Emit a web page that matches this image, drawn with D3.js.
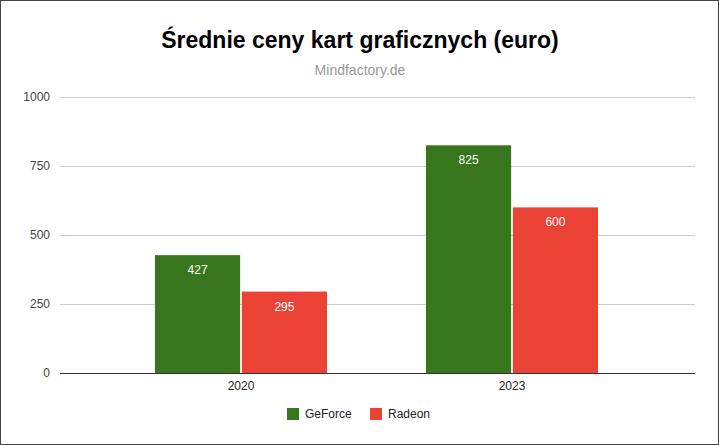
<!DOCTYPE html>
<html><head><meta charset="utf-8">
<script src="https://cdn.jsdelivr.net/npm/d3@7"></script>
<style>body{margin:0;background:#fff}svg{display:block;font-family:"Liberation Sans",Arial,sans-serif}</style>
</head><body><svg id="c" width="719" height="445"></svg>
<script>
const categories = ["2020", "2023"];
const seriesNames = ["GeForce", "Radeon"];
const geforce = [427, 825];
const radeon = [295, 600];
const yTicks = [0, 250, 500, 750, 1000];
const colors = ["#38761d", "#ea4335"];

const svg = d3.select("#c");
svg.append("rect").attr("x",0.5).attr("y",0.5).attr("width",718).attr("height",444).attr("fill","#fff").attr("stroke","#444");
svg.append("text").attr("x",360).attr("y",48).attr("text-anchor","middle").attr("font-size",23).attr("font-weight","bold").attr("fill","#000").text("Średnie ceny kart graficznych (euro)");
svg.append("text").attr("x",360).attr("y",75).attr("text-anchor","middle").attr("font-size",14).attr("fill","#999").text("Mindfactory.de");

const y = d3.scaleLinear().domain([0,1000]).range([373,97]);
const x0 = d3.scaleBand().domain(categories).range([105.5,647.5]).paddingInner(0).paddingOuter(0);
const x1 = d3.scaleBand().domain(seriesNames).range([0,x0.bandwidth()]).paddingOuter(0.57).paddingInner(0.02);
const left = 60, right = 695;

yTicks.forEach(t=>{
  svg.append("line").attr("x1",left).attr("x2",right).attr("y1",y(t)).attr("y2",y(t))
    .attr("stroke", t===0 ? "#333" : "#ccc").attr("stroke-width",1).attr("shape-rendering","crispEdges");
  svg.append("text").attr("x",50).attr("y",y(t)+4).attr("text-anchor","end").attr("font-size",12).attr("fill","#444").text(t);
});

const data = [geforce, radeon];
categories.forEach((c,i)=>{
  seriesNames.forEach((s,j)=>{
    const v = data[j][i];
    const bx = x0(c)+x1(s);
    svg.append("rect").attr("x",bx).attr("y",y(v)).attr("width",x1.bandwidth()).attr("height",y(0)-y(v)).attr("fill",colors[j]);
    svg.append("text").attr("x",bx+x1.bandwidth()/2).attr("y",y(v)+19).attr("text-anchor","middle").attr("font-size",12).attr("fill","#fff").text(v);
  });
  svg.append("text").attr("x",x0(c)+x0.bandwidth()/2).attr("y",390).attr("text-anchor","middle").attr("font-size",12).attr("fill","#222").text(c);
});

const lx = [287, 370];
seriesNames.forEach((s,j)=>{
  svg.append("rect").attr("x",lx[j]).attr("y",408).attr("width",12).attr("height",12).attr("fill",colors[j]);
  svg.append("text").attr("x",lx[j]+18).attr("y",418).attr("font-size",12).attr("fill","#222").text(s);
});
</script></body></html>
